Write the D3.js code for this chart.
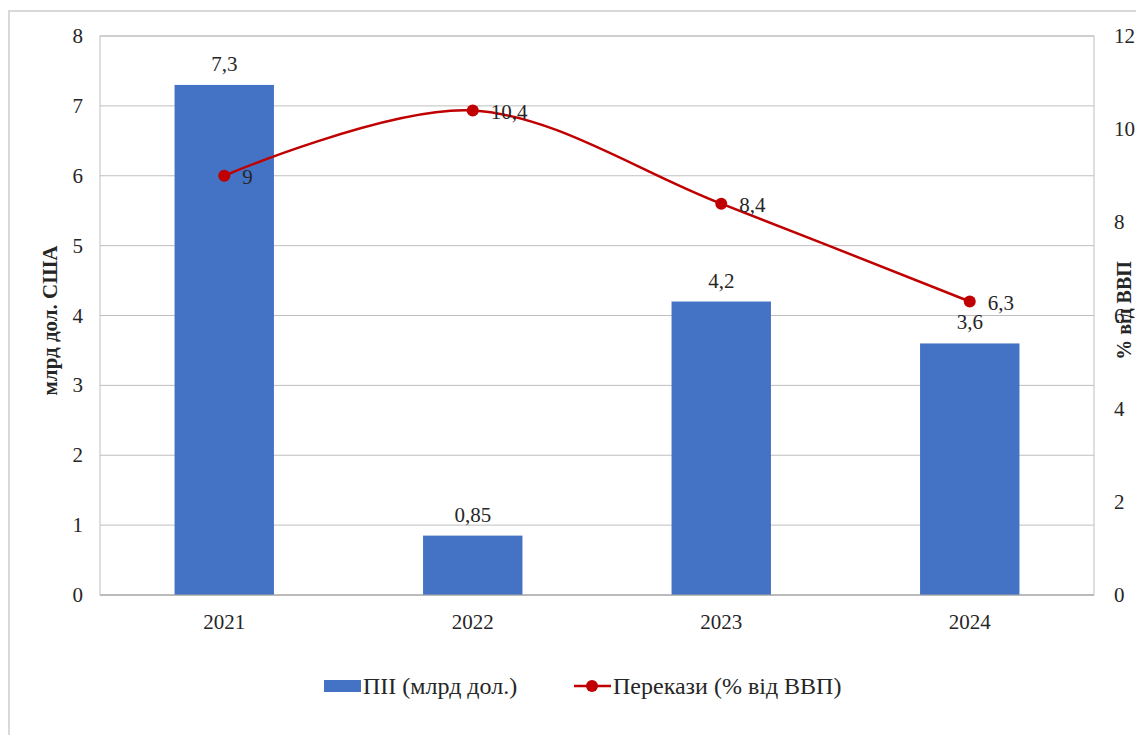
<!DOCTYPE html>
<html>
<head>
<meta charset="utf-8">
<script src="https://cdn.jsdelivr.net/npm/d3@7"></script>
<style>
  body { margin: 0; background: #fff; }
</style>
</head>
<body>
<div id="chart"></div>
<script>
// chart values
var years = ["2021", "2022", "2023", "2024"];
var fdi = [7.3, 0.85, 4.2, 3.6];            // ПІІ, млрд дол.
var remittances = [9, 10.4, 8.4, 6.3];      // Перекази, % від ВВП
var fdiLabels = ["7,3", "0,85", "4,2", "3,6"];
var remLabels = ["9", "10,4", "8,4", "6,3"];
var leftTicks = [0, 1, 2, 3, 4, 5, 6, 7, 8];
var rightTicks = [0, 2, 4, 6, 8, 10, 12];

var FONT = "Liberation Serif";
var TXT = "#262626";

var W = 1136, H = 735;
var margin = { top: 36, right: 42, bottom: 140, left: 100 };
var width = W - margin.left - margin.right,
    height = H - margin.top - margin.bottom;

var svg = d3.select("#chart").append("svg")
    .attr("width", W)
    .attr("height", H);

// outer chart frame
svg.append("rect")
    .attr("x", 9).attr("y", 11)
    .attr("width", W + 20).attr("height", H + 20)
    .attr("fill", "none")
    .attr("stroke", "#d9d9d9")
    .attr("stroke-width", 2);

var g = svg.append("g")
    .attr("transform", "translate(" + margin.left + "," + margin.top + ")");

var x = d3.scaleBand().domain(years).range([0, width]).paddingInner(0.6).paddingOuter(0.3);
var xPoint = function (d) { return x(d) + x.bandwidth() / 2; };
var yLeft = d3.scaleLinear().domain([0, 8]).range([height, 0]);
var yRight = d3.scaleLinear().domain([0, 12]).range([height, 0]);

function addText(sel, size) {
    return sel.append("text")
        .attr("font-family", FONT)
        .attr("font-size", size)
        .attr("fill", TXT);
}

// gridlines
g.selectAll(".grid").data(leftTicks).enter().append("line")
    .attr("x1", 0).attr("x2", width)
    .attr("y1", function (d) { return yLeft(d); })
    .attr("y2", function (d) { return yLeft(d); })
    .attr("stroke", "#bfbfbf").attr("stroke-width", 1);

// plot area frame
g.append("rect")
    .attr("width", width).attr("height", height)
    .attr("fill", "none").attr("stroke", "#bfbfbf");

// bars
g.selectAll(".bar").data(fdi).enter().append("rect")
    .attr("x", function (d, i) { return x(years[i]); })
    .attr("y", function (d) { return yLeft(d); })
    .attr("width", x.bandwidth())
    .attr("height", function (d) { return height - yLeft(d); })
    .attr("fill", "#4472c4");

g.append("line")
    .attr("x1", 0).attr("x2", width)
    .attr("y1", height).attr("y2", height)
    .attr("stroke", "#a6a6a6");

// bar labels
fdi.forEach(function (d, i) {
    addText(g, 21)
        .attr("x", xPoint(years[i]))
        .attr("y", yLeft(d) - 14)
        .attr("text-anchor", "middle")
        .text(fdiLabels[i]);
});

// smoothed line
var line = d3.line()
    .x(function (d, i) { return xPoint(years[i]); })
    .y(function (d) { return yRight(d); })
    .curve(d3.curveCardinal.tension(0));

g.append("path")
    .datum(remittances)
    .attr("d", line)
    .attr("fill", "none")
    .attr("stroke", "#c00000")
    .attr("stroke-width", 2.5);

g.selectAll(".dot").data(remittances).enter().append("circle")
    .attr("cx", function (d, i) { return xPoint(years[i]); })
    .attr("cy", function (d) { return yRight(d); })
    .attr("r", 6)
    .attr("fill", "#c00000");

remittances.forEach(function (d, i) {
    addText(g, 21)
        .attr("x", xPoint(years[i]) + 18)
        .attr("y", yRight(d) + 8)
        .text(remLabels[i]);
});

// axes labels
leftTicks.forEach(function (d) {
    addText(g, 21)
        .attr("x", -17).attr("y", yLeft(d) + 7)
        .attr("text-anchor", "end")
        .text(d);
});

rightTicks.forEach(function (d) {
    addText(g, 21)
        .attr("x", width + 20).attr("y", yRight(d) + 7)
        .text(d);
});

years.forEach(function (d) {
    addText(g, 21)
        .attr("x", xPoint(d))
        .attr("y", height + 34)
        .attr("text-anchor", "middle")
        .text(d);
});

addText(g, 21)
    .attr("transform", "translate(" + (-43) + "," + (height / 2 + 5) + ") rotate(-90)")
    .attr("text-anchor", "middle")
    .attr("font-weight", "bold")
    .text("млрд дол. США");

addText(g, 20)
    .attr("transform", "translate(" + (width + 37) + "," + (height / 2 - 5) + ") rotate(-90)")
    .attr("text-anchor", "middle")
    .attr("font-weight", "bold")
    .text("% від ВВП");

// legend
var legend = svg.append("g").attr("transform", "translate(0,686)");
legend.append("rect")
    .attr("x", 324).attr("y", -6).attr("width", 37).attr("height", 12)
    .attr("fill", "#4472c4");
addText(legend, 24)
    .attr("x", 363).attr("y", 8)
    .text("ПІІ (млрд дол.)");
legend.append("line")
    .attr("x1", 574).attr("x2", 611).attr("y1", 0).attr("y2", 0)
    .attr("stroke", "#c00000").attr("stroke-width", 2.5);
legend.append("circle")
    .attr("cx", 592).attr("cy", 0).attr("r", 6).attr("fill", "#c00000");
addText(legend, 24)
    .attr("x", 613).attr("y", 8)
    .text("Перекази (% від ВВП)");
</script>
</body>
</html>
